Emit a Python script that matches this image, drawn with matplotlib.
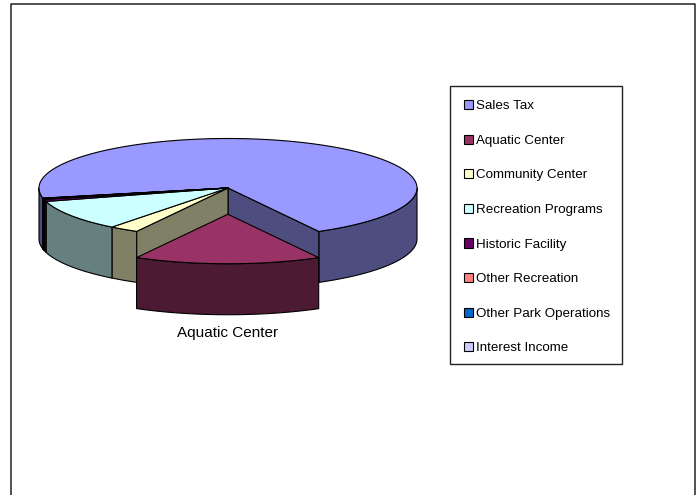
import numpy as np
import matplotlib
matplotlib.use("Agg")
import matplotlib.pyplot as plt
from matplotlib.patches import Polygon, Patch, Rectangle

plt.rcParams['font.family'] = ['Liberation Sans', 'DejaVu Sans']

# Data (percent of total)
categories = ["Sales Tax", "Aquatic Center", "Community Center", "Recreation Programs",
              "Historic Facility", "Other Recreation", "Other Park Operations", "Interest Income"]
values = [70.3, 16.0, 2.5, 10.1, 0.7, 0.1, 0.2, 0.1]
top_colors = ["#9999FF", "#993366", "#FFFFCC", "#CCFFFF", "#660066", "#FF8080", "#0066CC", "#CCCCFF"]
side_colors = ["#4D4D80", "#4D1A33", "#808066", "#668080", "#330033", "#804040", "#003366", "#666680"]
exploded_category = "Aquatic Center"
label_text = "Aquatic Center"

# Layout (pixels)
W, H = 696, 495
CX, CY, RX, RY, DEPTH = 228.0, 188.0, 189.0, 49.5, 51.0
EXPLODE = 0.53
START = 78.2   # clockwise from the bottom of the pie
LW = 0.8

fig = plt.figure(figsize=(W / 100, H / 100), dpi=100)
ax = fig.add_axes([0, 0, 1, 1])
ax.set_xlim(0, W)
ax.set_ylim(H, 0)
ax.axis("off")

# chart-area frame, open at the bottom
ax.plot([10.5, 10.5, 694.5, 694.5], [H + 5, 3.5, 3.5, H + 5], color="#222222", lw=1.1, clip_on=False, zorder=1)


def pt(theta, ox=0.0, oy=0.0, drop=0.0):
    t = np.radians(theta)
    return np.column_stack([CX + ox - RX * np.sin(t), CY + oy + drop + RY * np.cos(t)])


def arc(a, b, **kw):
    n = max(int(abs(b - a) * 1.5), 2)
    return pt(np.linspace(a, b, n), **kw)


def front_ranges(a, b):
    """Parts of [a, b] that lie on the front half of the cylinder."""
    out = []
    for shift in (-720, -360, 0, 360):
        lo, hi = max(a + shift, -90), min(b + shift, 90)
        if hi > lo:
            out.append((lo, hi))
    return out


def add(poly, fc, z):
    ax.add_patch(Polygon(poly, fc=fc, ec="black", lw=LW, joinstyle="round", zorder=z))


def cut_wall(theta, side, z):
    c = np.array([[CX, CY]])
    e = pt(np.array([theta]))
    add(np.vstack([c, e, e + [0, DEPTH], c + [0, DEPTH]]), side, z)


def draw_slice(a, b, top, side, ox, oy, z):
    for lo, hi in front_ranges(a, b):
        add(np.vstack([arc(lo, hi, ox=ox, oy=oy), arc(hi, lo, ox=ox, oy=oy, drop=DEPTH)]), side, z)
    add(np.vstack([[[CX + ox, CY + oy]], arc(a, b, ox=ox, oy=oy)]), top, z + 2)


sweep = np.array(values) / sum(values) * 360.0
idx_ex = categories.index(exploded_category)

# Sales Tax runs from the left over the back to the right
s_a, s_b = START, START + sweep[0]
draw_slice(s_a, s_b, top_colors[0], side_colors[0], 0, 0, 3)
cut_wall(s_b - 360.0, side_colors[0], 4)

# Slices clockwise after the exploded one
a_ex = s_b - 360.0
b_ex = a_ex + sweep[idx_ex]
cur = b_ex
for i in range(idx_ex + 1, len(categories)):
    draw_slice(cur, cur + sweep[i], top_colors[i], side_colors[i], 0, 0, 6)
    if i == idx_ex + 1:
        cut_wall(cur, side_colors[i], 7)
    cur += sweep[i]

# The exploded slice, moved along its middle direction
mid = np.radians((a_ex + b_ex) / 2)
ox, oy = -RX * EXPLODE * np.sin(mid), RY * EXPLODE * np.cos(mid)
draw_slice(a_ex, b_ex, top_colors[idx_ex], side_colors[idx_ex], ox, oy, 20)

ax.text(CX, 333, label_text, ha="center", va="center", fontsize=11, color="black")

# Legend: frame plus frameless legend inside it
ax.add_patch(Rectangle((449.5, 85.5), 172, 278.5, fc="white", ec="#222222", lw=1.0, zorder=25))
handles = [Patch(fc=c, ec="black", lw=0.8) for c in top_colors]
leg = ax.legend(handles, categories, loc="upper left", bbox_to_anchor=(464 / W, 1 - 100 / H),
                bbox_transform=fig.transFigure, fontsize=9.6, frameon=False,
                handlelength=0.68, handleheight=0.68, handletextpad=0.22,
                labelspacing=1.675, borderaxespad=0, borderpad=0, labelcolor="black")
leg.set_zorder(30)

fig.savefig("out.png", dpi=100)
